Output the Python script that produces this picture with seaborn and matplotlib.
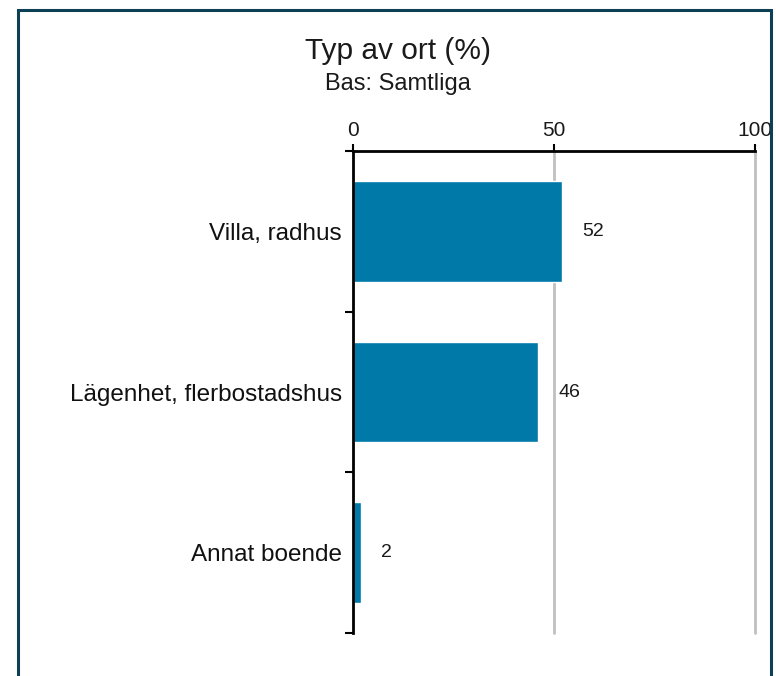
import matplotlib
matplotlib.use("Agg")
import matplotlib.pyplot as plt
import seaborn as sns
import pandas as pd
from matplotlib.patches import Rectangle
from matplotlib.ticker import FixedLocator

categories = ["Villa, radhus", "Lägenhet, flerbostadshus", "Annat boende"]
values = [52, 46, 2]
xticks = [0, 50, 100]

sns.set_style("white")
plt.rcParams['font.family'] = ['Liberation Sans', 'DejaVu Sans']

df = pd.DataFrame({"cat": categories, "val": values})

fig = plt.figure(figsize=(7.76, 6.76), dpi=100)
ax = fig.add_axes([0.4549, 0.0636, 0.9729 - 0.4549, 0.7766 - 0.0636])

sns.barplot(data=df, x="val", y="cat", orient="h", color="#0079A8",
            saturation=1, width=0.625, ax=ax, zorder=3)

ax.set_xlim(0, 100)
ax.set_ylim(2.5, -0.5)
ax.set_xlabel("")
ax.set_ylabel("")

# top x axis
ax.xaxis.set_ticks_position("top")
ax.xaxis.set_label_position("top")
ax.set_xticks(xticks)
ax.set_xticklabels([str(t) for t in xticks], fontsize=15, color="#1a1a1a")
ax.tick_params(axis="x", which="major", top=True, bottom=False, direction="out",
               length=5, width=1.5, color="black", pad=3)
for t in xticks[1:]:
    ax.axvline(t, color="#C0C0C0", lw=2, zorder=1, clip_on=False)

# y axis: category boundaries as ticks
ax.yaxis.set_minor_locator(FixedLocator([-0.5, 0.5, 1.5, 2.5]))
ax.tick_params(axis="y", which="major", left=True, length=0, labelsize=17.5,
               pad=8, labelcolor="#111111")
ax.tick_params(axis="y", which="minor", left=True, direction="out", length=6,
               width=1.5, color="black")

for side in ["right", "bottom"]:
    ax.spines[side].set_visible(False)
for side in ["top", "left"]:
    ax.spines[side].set_color("black")
    ax.spines[side].set_linewidth(2)
    ax.spines[side].set_zorder(4)

for i, v in enumerate(values):
    ax.annotate(f"{v}", xy=(v, i), xytext=(14.5, 0), textcoords="offset points",
                ha="left", va="center", fontsize=14, color="#1a1a1a")

fig.text(0.5125, 0.924, "Typ av ort (%)", ha="center", va="center", fontsize=21.5,
         color="#1a1a1a")
fig.text(0.5125, 0.876, "Bas: Samtliga", ha="center", va="center", fontsize=17,
         color="#1a1a1a")

border = Rectangle((17.5 / 776, -0.1), (771 - 17.5) / 776, 1 - 10 / 676 + 0.1,
                   transform=fig.transFigure, fill=False, edgecolor="#0D3F55",
                   lw=2.2, zorder=10)
fig.patches.append(border)

fig.savefig("out.png", dpi=100, facecolor="white")
